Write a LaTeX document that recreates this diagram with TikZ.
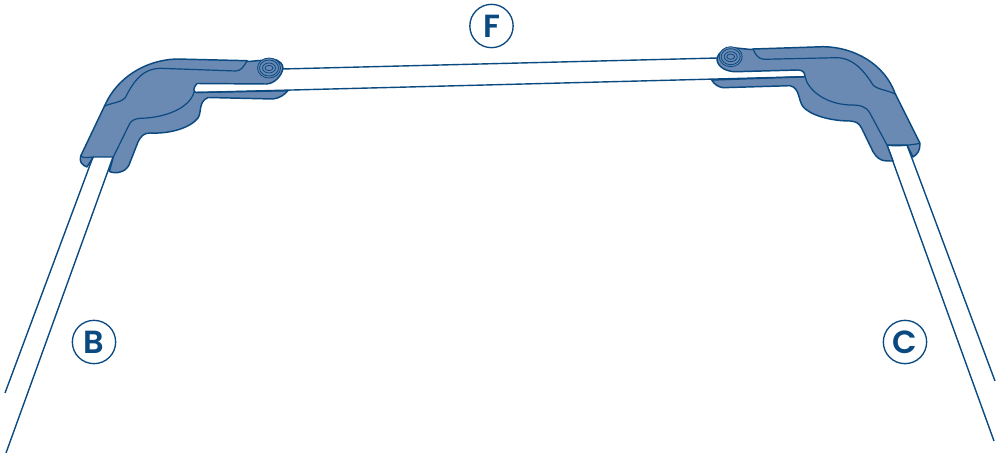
\documentclass[tikz,border=0pt]{standalone}
\usepackage{fontspec}
\setmainfont{Poppins}[BoldFont=* SemiBold]
\definecolor{ink}{HTML}{0B4A80}
\definecolor{body}{HTML}{6A89B3}
\tikzset{
  shell/.style={fill=body,draw=ink,line width=1.1pt,line join=round},
  crease/.style={draw=ink,line width=0.9pt},
  tube/.style={draw=ink,line width=1.05pt},
  tag/.style={circle,draw=ink,line width=1pt,minimum size=32.5pt,inner sep=0pt,text=ink,font=\fontsize{24}{24}\bfseries\selectfont},
  rim/.style={draw=ink,line width=0.6pt,fill=body}
}
\begin{document}
\begin{tikzpicture}[x=0.75pt,y=-0.75pt]
\useasboundingbox (0,0) rectangle (1004,456);
% tubes
\coordinate (la1) at (93,157); \coordinate (la2) at (5,393);
\coordinate (lb1) at (113,157); \coordinate (lb2) at (6,453);
\coordinate (ra1) at (907,145); \coordinate (ra2) at (995,381);
\coordinate (rb1) at (887,145); \coordinate (rb2) at (994,441);
\draw[tube] (la1) -- (la2);
\draw[tube] (lb1) -- (lb2);
\draw[tube] (ra1) -- (ra2);
\draw[tube] (rb1) -- (rb2);
% left bracket
\draw[shell] (246.7,60.7) -- (176.7,59)
  .. controls (145,60) and (117,78) .. (105,105)
  -- (80.7,156) .. controls (79,162) and (82,165) .. (87,167)
  -- (93.3,157) -- (113.3,157) -- (109.3,171.5)
  .. controls (113,173) and (118,173) .. (120,172)
  .. controls (124,171) and (127,169) .. (129,165)
  -- (138,142) .. controls (141,136) and (144,133) .. (150,133)
  .. controls (170,134) and (190,128) .. (198,118)
  .. controls (202,112) and (198,102) .. (208,97.5)
  -- (273,99) .. controls (280,98) and (284,95) .. (288,90.7)
  -- (196,92.5) .. controls (193,92) and (193,88) .. (197,83.5)
  -- (266,84) .. controls (274,84) and (282,76) .. (283,68)
  .. controls (282,60) and (274,58) .. (266,60)
  -- (248,61.5) -- cycle;
\draw[crease] (247,61) .. controls (244,66) and (241,71) .. (236,71)
  -- (160,68.3) .. controls (140,69) and (132,85) .. (125,98)
  .. controls (120,103) and (110,103) .. (104,106.5);
\draw[crease] (194,92) .. controls (190,108) and (165,118) .. (140,118.3)
  .. controls (135,119) and (131,120) .. (129,125) -- (113.3,157);
\draw[crease] (80.7,156) .. controls (84,159) and (90,157) .. (93.3,157);
% right bracket
\draw[shell] (753.3,49) -- (823.3,46.7)
  .. controls (855,47) and (885,65) .. (895,93.3)
  -- (920,143.3) .. controls (920,150) and (918,154) .. (913,157)
  -- (907,145) -- (887,145) -- (893,161)
  .. controls (888,161) and (884,161) .. (881.7,160)
  .. controls (877,158) and (875,155) .. (873,151.7)
  -- (861.7,128.3) .. controls (859,123) and (856,121.5) .. (850,121)
  .. controls (830,121) and (810,115) .. (803,106.7)
  .. controls (798,100) and (800,88) .. (790,85.7)
  -- (723,87.7) .. controls (718,87) and (714,84) .. (711.7,80)
  -- (805,76.7) .. controls (805,73) and (803,70) .. (798,70)
  -- (736.7,71.7) .. controls (728,72) and (718,68) .. (717,60)
  .. controls (717,52) and (726,48) .. (736,48)
  -- (751,49.5) -- cycle;
\draw[crease] (753,49) .. controls (755,54) and (758,59) .. (764,59.3)
  -- (836.7,57.7) .. controls (855,58) and (866,74) .. (873,85)
  .. controls (878,90) and (888,90) .. (896,94.5);
\draw[crease] (805,76.7) .. controls (808,90) and (825,104) .. (850,105)
  .. controls (860,105) and (866,106) .. (870,113.3) -- (887,145);
\draw[crease] (887,145) .. controls (895,147) and (912,145) .. (920,143.3);
% cross bar
\coordinate (ft1) at (282,69); \coordinate (ft2) at (718,58);
\coordinate (fb1) at (196,92.5); \coordinate (fb2) at (805,76.7);
\draw[tube] (ft1) -- (ft2);
\draw[tube] (fb1) -- (fb2);
% washers
\foreach \cx/\cy in {269/68,730.7/56.7}{
  \draw[rim] (\cx,\cy) ellipse [x radius=11.5,y radius=10];
  \draw[rim] (\cx,\cy) ellipse [x radius=9.5,y radius=8];
  \draw[rim] (\cx,\cy) ellipse [x radius=6.5,y radius=5];
  \draw[rim] (\cx,\cy) ellipse [x radius=4,y radius=2.6];
}
% labels
\node[tag] (f) at (491.5,26) {F};
\node[tag] (b) at (94,342) {B};
\node[tag] (c) at (905,342) {C};
\end{tikzpicture}
\end{document}
